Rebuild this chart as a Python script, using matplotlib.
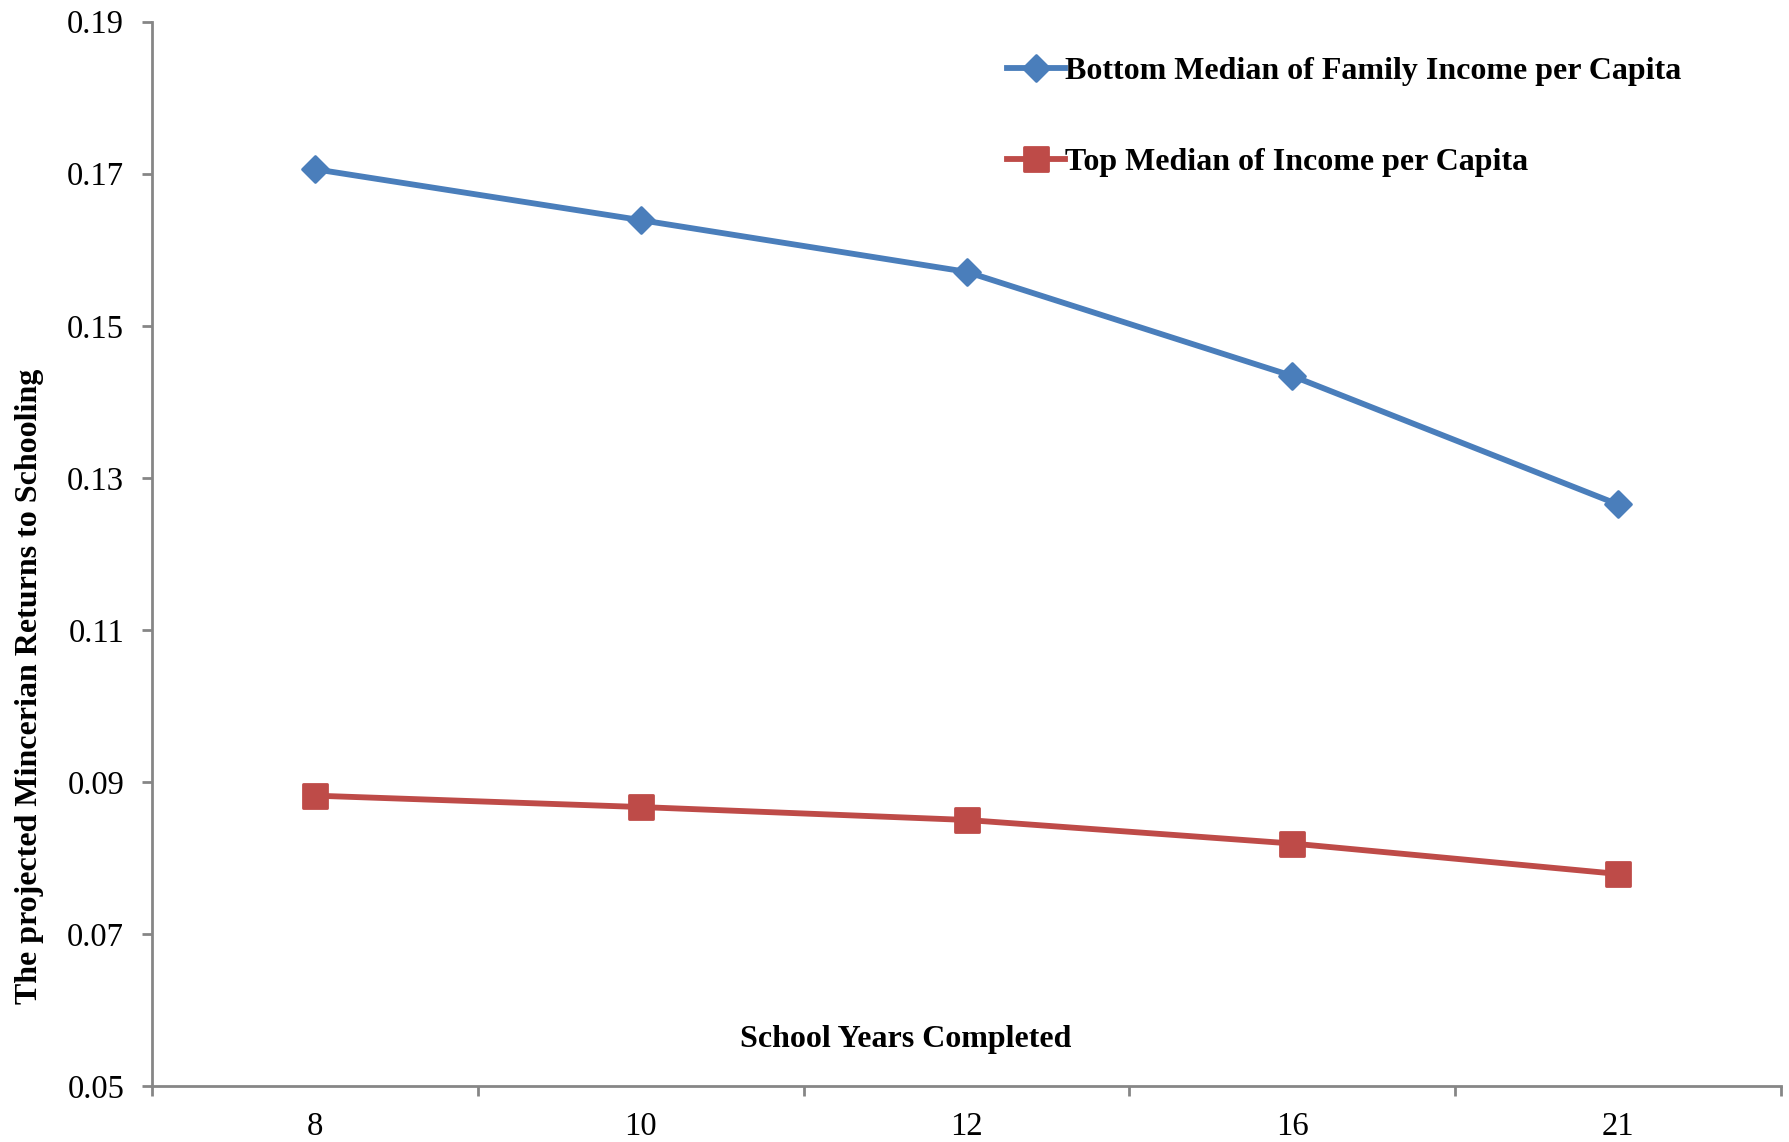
import matplotlib
matplotlib.use("Agg")
import matplotlib.pyplot as plt
from matplotlib.markers import MarkerStyle
import numpy as np

plt.rcParams['font.family'] = ['Liberation Serif', 'DejaVu Serif']

# School years completed (categorical x axis)
years = ['8', '10', '12', '16', '21']
# Projected Mincerian returns to schooling
bottom_median = [0.1706, 0.1639, 0.1571, 0.1434, 0.1265]
top_median = [0.0882, 0.0867, 0.0850, 0.0819, 0.0779]

blue = '#4A7EBB'
red = '#BE4B48'
axis_gray = '#868686'

fig = plt.figure(figsize=(17.9, 11.42), dpi=100)
ax = fig.add_axes([0.0849, 0.049, 0.9101, 0.932])

x = np.arange(len(years))
ax.plot(x, bottom_median, color=blue, lw=4.2,
        marker=MarkerStyle('D', joinstyle='round'), ms=13.5, mew=2,
        mec=blue, mfc=blue, label='Bottom Median of Family Income per Capita')
ax.plot(x, top_median, color=red, lw=4.2,
        marker=MarkerStyle('s', joinstyle='round'), ms=17, mew=2,
        mec=red, mfc=red, label='Top Median of Income per Capita')

ax.set_xlim(-0.5, len(years) - 0.5)
ax.set_ylim(0.05, 0.19)
ax.set_yticks(np.arange(0.05, 0.1901, 0.02))
ax.set_yticklabels([f'{v:.2f}' for v in np.arange(0.05, 0.1901, 0.02)])
ax.set_xticks(x)
ax.set_xticklabels(years)
ax.set_xticks(np.arange(-0.5, len(years), 1.0), minor=True)

for side in ['top', 'right']:
    ax.spines[side].set_visible(False)
for side in ['left', 'bottom']:
    ax.spines[side].set_color(axis_gray)
    ax.spines[side].set_linewidth(2)

ax.tick_params(axis='y', direction='out', length=7, width=2, color=axis_gray,
               labelsize=23.5, pad=13)
ax.tick_params(axis='x', which='major', length=0, labelsize=23.5, pad=18)
ax.tick_params(axis='x', which='minor', direction='out', length=7, width=2,
               color=axis_gray)

fig.text(0.0165, 0.399, 'The projected Mincerian Returns to Schooling',
         rotation=90, ha='center', va='center', fontsize=23, fontweight='bold')
fig.text(0.506, 0.0895, 'School Years Completed', ha='center', va='center',
         fontsize=23, fontweight='bold')

leg = fig.legend(loc='upper left', bbox_to_anchor=(0.5626, 0.950), frameon=False,
                 prop={'size': 23, 'weight': 'bold'}, handlelength=1.8,
                 handletextpad=0.0, labelspacing=1.93, borderpad=0,
                 borderaxespad=0)

fig.savefig('out.png', dpi=100)
